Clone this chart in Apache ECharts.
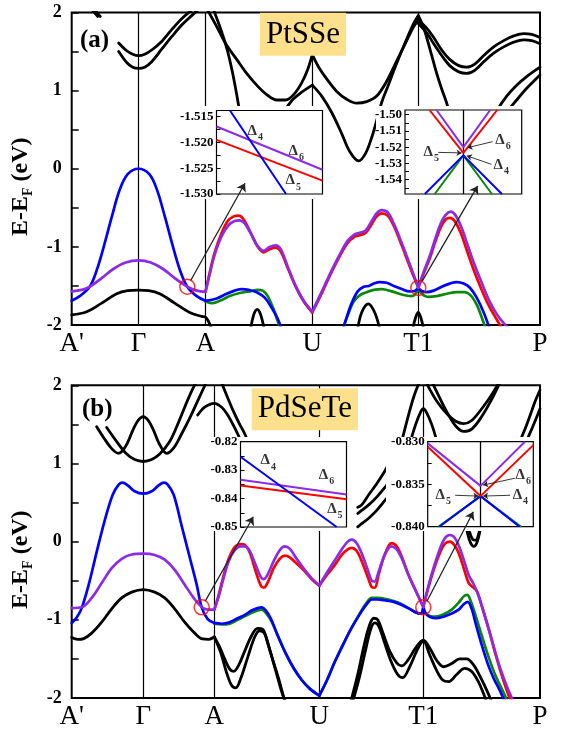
<!DOCTYPE html>
<html><head><meta charset="utf-8">
<script src="https://cdn.jsdelivr.net/npm/echarts@6/dist/echarts.min.js"></script>
<style>html,body{margin:0;padding:0;background:#fff}#c{width:564px;height:731px}</style>
</head><body><div id="c"></div>
<script>
// ---------------- DATA ----------------
const kLabels = ["A'", 'Γ', 'A', 'U', 'T1', 'P'];
const kpA = [0, 0.668, 1.338, 2.406, 3.466, 4.683];
const kpB = [0, 0.716, 1.426, 2.476, 3.516, 4.683];

// Panel (a) PtSSe : each band = list of segments of [k, E]
const a_up1 = [[[0.2,2.04],[0.26,1.95]],
  [[0.47,1.61],[0.55,1.51],[0.61,1.465],[0.668,1.447],[0.73,1.465],[0.8,1.52],[0.9,1.63],[1.0,1.78],[1.1,1.92],[1.2,2.03]]];
const a_up2 = [[[0.225,2.04],[0.285,1.95]],
  [[0.47,1.5],[0.55,1.36],[0.61,1.3],[0.668,1.285],[0.73,1.3],[0.8,1.37],[0.9,1.53],[1.0,1.69],[1.1,1.84],[1.2,1.96],[1.27,2.04]]];
const a_low = [[[0,-1.87],[0.15,-1.83],[0.3,-1.72],[0.45,-1.6],[0.56,-1.56],[0.668,-1.553],[0.77,-1.56],[0.88,-1.6],[1.03,-1.72],[1.18,-1.84],[1.3,-1.89],[1.338,-1.9],[1.37,-1.96],[1.4,-2.05]]];
const a_c1 = [
  [[1.36,2.03],[1.45,1.82],[1.55,1.58],[1.65,1.4],[1.75,1.22],[1.85,1.07],[1.95,0.95],[2.05,0.88],[2.14,0.88],[2.22,0.95],[2.3,1.1],[2.36,1.27],[2.406,1.46]],
  [[2.406,1.46],[2.47,1.3],[2.55,1.15],[2.65,0.99],[2.75,0.89],[2.85,0.84],[2.95,0.86],[3.05,0.93],[3.15,1.12],[3.25,1.38],[3.35,1.64],[3.42,1.82],[3.466,1.9]],
  [[3.466,1.9],[3.55,1.8],[3.62,1.68],[3.7,1.52],[3.78,1.4],[3.87,1.32],[3.95,1.3],[4.03,1.34],[4.12,1.45],[4.22,1.56],[4.32,1.64],[4.42,1.7],[4.52,1.73],[4.6,1.72],[4.683,1.68]]];
const a_c2 = [[[1.42,2.03],[1.5,1.75],[1.56,1.5],[1.61,1.22],[1.65,0.95],[1.69,0.65]]];
const a_x2 = [
  [[2.06,0.55],[2.12,0.72],[2.2,0.87],[2.3,0.98],[2.406,1.07]],
  [[2.406,1.07],[2.5,0.93],[2.6,0.72],[2.7,0.45],[2.78,0.22],[2.87,0.1],[2.94,0.2],[3.0,0.4],[3.05,0.62],[3.1,0.85],[3.16,1.05],[3.25,1.35],[3.35,1.66],[3.42,1.86],[3.466,1.96]],
  [[3.466,1.96],[3.51,1.84],[3.55,1.68],[3.6,1.45],[3.65,1.22],[3.7,1.02],[3.75,0.84],[3.8,0.6],[3.84,0.4]]];
const a_tr2 = [[[3.466,1.86],[3.55,1.74],[3.62,1.6],[3.7,1.45],[3.78,1.32],[3.87,1.24],[3.95,1.22],[4.03,1.26],[4.12,1.37],[4.22,1.48],[4.32,1.56],[4.42,1.62],[4.52,1.65],[4.6,1.64],[4.683,1.6]]];
const a_rr = [[[4.2,0.6],[4.25,0.74],[4.35,0.93],[4.45,1.07],[4.55,1.18],[4.683,1.3]],
  [[4.3,0.6],[4.35,0.72],[4.45,0.88],[4.55,1.03],[4.62,1.12],[4.683,1.2]]];
const a_arch = [[[1.79,-2.05],[1.82,-1.87],[1.856,-1.8],[1.89,-1.87],[1.925,-2.05]],
  [[2.86,-2.05],[2.9,-1.84],[2.966,-1.73],[3.03,-1.84],[3.08,-2.05]],
  [[3.41,-2.05],[3.44,-1.9],[3.466,-1.84],[3.49,-1.9],[3.52,-2.05]]];

const a_blue = [
  [[0,-1.69],[0.08,-1.63],[0.18,-1.51],[0.25,-1.3],[0.32,-1.0],[0.4,-0.62],[0.48,-0.27],[0.56,-0.07],[0.668,0],[0.776,-0.07],[0.853,-0.27],[0.933,-0.62],[1.013,-1.0],[1.083,-1.3],[1.156,-1.51],[1.25,-1.63],[1.338,-1.69]],
  [[1.338,-1.69],[1.45,-1.66],[1.55,-1.6],[1.63,-1.56],[1.7,-1.54],[1.77,-1.55],[1.85,-1.58],[1.93,-1.65],[2.0,-1.78],[2.06,-1.92],[2.1,-2.05]],
  [[2.7,-2.1],[2.75,-1.9],[2.8,-1.72],[2.86,-1.57],[2.92,-1.51],[2.97,-1.5],[3.02,-1.47],[3.08,-1.45],[3.15,-1.46],[3.22,-1.5],[3.3,-1.54],[3.38,-1.57],[3.43,-1.565],[3.466,-1.525]],
  [[3.466,-1.525],[3.5,-1.565],[3.55,-1.58],[3.62,-1.56],[3.7,-1.51],[3.78,-1.47],[3.85,-1.45],[3.92,-1.47],[3.98,-1.52],[4.05,-1.65],[4.12,-1.84],[4.18,-2.05]]];
const a_green = [
  [[1.338,-1.7],[1.4,-1.72],[1.48,-1.69],[1.58,-1.63],[1.68,-1.59],[1.78,-1.57],[1.86,-1.55],[1.91,-1.56],[1.96,-1.63],[2.02,-1.8],[2.06,-1.95],[2.09,-2.05]],
  [[2.7,-2.1],[2.76,-1.88],[2.82,-1.7],[2.88,-1.62],[2.95,-1.58],[3.02,-1.55],[3.1,-1.54],[3.2,-1.57],[3.3,-1.61],[3.4,-1.63],[3.44,-1.6],[3.466,-1.525]],
  [[3.466,-1.525],[3.5,-1.6],[3.56,-1.64],[3.65,-1.63],[3.75,-1.6],[3.85,-1.58],[3.93,-1.58],[3.99,-1.62],[4.05,-1.74],[4.1,-1.9],[4.14,-2.05]]];
const a_red = [
  [[1.338,-1.575],[1.38,-1.33],[1.43,-1.07],[1.5,-0.82],[1.56,-0.67],[1.62,-0.61],[1.67,-0.6],[1.72,-0.65],[1.79,-0.82],[1.86,-1.0],[1.92,-1.07],[1.98,-1.03],[2.04,-1.01],[2.09,-1.06],[2.16,-1.27],[2.24,-1.51],[2.32,-1.7],[2.406,-1.84]],
  [[2.406,-1.84],[2.46,-1.7],[2.52,-1.54],[2.6,-1.32],[2.68,-1.12],[2.76,-0.95],[2.83,-0.87],[2.88,-0.85],[2.94,-0.82],[3.0,-0.71],[3.05,-0.61],[3.1,-0.57],[3.16,-0.6],[3.22,-0.73],[3.3,-0.98],[3.38,-1.25],[3.466,-1.5235]],
  [[3.466,-1.5235],[3.52,-1.34],[3.58,-1.15],[3.64,-0.92],[3.69,-0.75],[3.74,-0.65],[3.78,-0.63],[3.83,-0.67],[3.89,-0.82],[3.95,-1.04],[4.01,-1.26],[4.09,-1.52],[4.17,-1.75],[4.25,-1.93],[4.31,-2.06]]];
const a_purple = [
  [[0,-1.57],[0.1,-1.55],[0.18,-1.51],[0.3,-1.4],[0.42,-1.28],[0.54,-1.2],[0.668,-1.173],[0.79,-1.2],[0.91,-1.28],[1.03,-1.4],[1.156,-1.51],[1.25,-1.56],[1.338,-1.575]],
  [[1.338,-1.575],[1.38,-1.35],[1.43,-1.1],[1.5,-0.86],[1.57,-0.72],[1.63,-0.67],[1.68,-0.66],[1.73,-0.7],[1.8,-0.85],[1.86,-0.99],[1.92,-1.05],[1.98,-1.0],[2.04,-0.98],[2.09,-1.03],[2.16,-1.25],[2.24,-1.5],[2.32,-1.69],[2.406,-1.83]],
  [[2.406,-1.83],[2.46,-1.68],[2.52,-1.52],[2.6,-1.3],[2.68,-1.1],[2.76,-0.92],[2.83,-0.84],[2.88,-0.82],[2.94,-0.79],[3.0,-0.67],[3.05,-0.57],[3.1,-0.53],[3.16,-0.56],[3.22,-0.7],[3.3,-0.95],[3.38,-1.22],[3.466,-1.52]],
  [[3.466,-1.52],[3.52,-1.32],[3.58,-1.12],[3.64,-0.88],[3.69,-0.7],[3.74,-0.59],[3.79,-0.55],[3.84,-0.6],[3.9,-0.76],[3.96,-0.98],[4.02,-1.2],[4.1,-1.46],[4.18,-1.7],[4.26,-1.88],[4.33,-1.99],[4.38,-2.06]]];

// Panel (b) PdSeTe
const b_w = [[[0.25,1.47],[0.32,1.33],[0.4,1.19],[0.467,1.13],[0.54,1.22],[0.62,1.45],[0.67,1.56],[0.716,1.6],[0.76,1.56],[0.81,1.45],[0.88,1.24],[0.95,1.13],[1.02,1.2],[1.1,1.38],[1.18,1.58],[1.26,1.8],[1.35,2.05]]];
const b_v = [[[0.35,1.46],[0.45,1.28],[0.55,1.12],[0.63,1.05],[0.716,1.025],[0.8,1.05],[0.88,1.12],[0.98,1.28],[1.06,1.5],[1.13,1.72],[1.19,1.9],[1.24,2.03]]];
const b_apeak = [[[1.26,1.62],[1.33,1.72],[1.426,1.77],[1.5,1.72],[1.56,1.62],[1.62,1.48],[1.68,1.32],[1.73,1.15]]];
const b_steep = [[[1.5,2.03],[1.56,1.84],[1.62,1.66],[1.68,1.5],[1.73,1.38],[1.78,1.22]]];
const b_low = [[[0,-1.225],[0.06,-1.25],[0.12,-1.24],[0.2,-1.17],[0.3,-1.03],[0.4,-0.86],[0.5,-0.72],[0.6,-0.645],[0.716,-0.614],[0.83,-0.645],[0.93,-0.72],[1.03,-0.86],[1.13,-1.03],[1.23,-1.17],[1.31,-1.245],[1.37,-1.25],[1.426,-1.22]]];
const b_bk1 = [[[1.426,-1.22],[1.48,-1.35],[1.53,-1.5],[1.58,-1.63],[1.62,-1.66],[1.67,-1.58],[1.73,-1.4],[1.8,-1.2],[1.86,-1.11],[1.91,-1.12],[1.96,-1.3],[2.02,-1.55],[2.08,-1.8],[2.13,-2.05]]];
const b_bk2 = [[[1.426,-1.22],[1.49,-1.42],[1.55,-1.68],[1.6,-1.84],[1.64,-1.87],[1.69,-1.75],[1.76,-1.48],[1.83,-1.22],[1.88,-1.14],[1.93,-1.18],[1.98,-1.38],[2.04,-1.65],[2.1,-1.92],[2.14,-2.05]]];
const b_bk3 = [[[2.79,-2.05],[2.86,-1.7],[2.92,-1.35],[2.97,-1.1],[3.02,-0.98],[3.06,-1.0],[3.11,-1.16],[3.18,-1.4],[3.25,-1.55],[3.3,-1.59],[3.36,-1.52],[3.44,-1.36],[3.516,-1.26],[3.58,-1.36],[3.65,-1.52],[3.72,-1.6],[3.8,-1.56],[3.88,-1.5],[3.95,-1.5],[4.02,-1.58],[4.09,-1.74],[4.15,-1.9],[4.2,-2.05]]];
const b_bk4 = [[[2.81,-2.05],[2.88,-1.72],[2.94,-1.38],[2.99,-1.12],[3.03,-1.04],[3.07,-1.08],[3.12,-1.26],[3.19,-1.52],[3.26,-1.7],[3.31,-1.74],[3.38,-1.6],[3.45,-1.4],[3.516,-1.27],[3.58,-1.45],[3.65,-1.65],[3.71,-1.77],[3.77,-1.79],[3.85,-1.7],[3.93,-1.62],[4.0,-1.66],[4.07,-1.8],[4.12,-1.95],[4.15,-2.05]]];
const b_mid = [[[2.86,0.44],[2.9,0.47],[2.97,0.6],[3.05,0.74],[3.13,0.9],[3.17,1.0]],
  [[2.86,0.36],[2.88,0.38],[2.97,0.47],[3.05,0.57],[3.13,0.69],[3.17,0.76]],
  [[2.86,0.19],[2.88,0.21],[2.97,0.3],[3.05,0.4],[3.12,0.51],[3.16,0.57]]];
const b_t1 = [[[3.38,1.25],[3.44,1.5],[3.49,1.66],[3.516,1.7],[3.545,1.66],[3.6,1.5],[3.66,1.25]],
  [[3.3,1.28],[3.36,1.58],[3.42,1.85],[3.47,2.02],[3.5,2.1]]];
const b_tr = [[[3.53,2.08],[3.58,1.95],[3.66,1.78],[3.75,1.64],[3.84,1.54],[3.92,1.51],[4.0,1.55],[4.1,1.7],[4.2,1.88],[4.27,2.03]],
  [[3.6,2.05],[3.68,1.84],[3.76,1.64],[3.84,1.48],[3.92,1.41],[4.0,1.44],[4.1,1.6],[4.2,1.82],[4.28,2.03]]];
const b_rr = [[[4.45,1.2],[4.52,1.4],[4.58,1.6],[4.63,1.78],[4.683,1.94]],
  [[4.5,1.15],[4.57,1.35],[4.63,1.53],[4.683,1.7]]];
const b_vv = [[[3.93,0.3],[3.96,0.1],[3.99,-0.02],[4.02,-0.06],[4.05,-0.02],[4.08,0.12],[4.11,0.3]],
  [[3.95,0.3],[3.98,0.12],[4.01,0.03],[4.04,0.02],[4.07,0.1],[4.1,0.28]]];

const b_blue = [
  [[0,-1.04],[0.05,-0.97],[0.1,-0.85],[0.17,-0.55],[0.25,-0.13],[0.33,0.27],[0.41,0.6],[0.47,0.73],[0.51,0.755],[0.56,0.72],[0.63,0.645],[0.716,0.615],[0.8,0.645],[0.87,0.72],[0.92,0.755],[0.96,0.73],[1.02,0.6],[1.1,0.2],[1.18,-0.2],[1.25,-0.55],[1.3,-0.84],[1.36,-0.99],[1.426,-1.04]],
  [[1.426,-1.04],[1.5,-1.05],[1.58,-1.03],[1.66,-0.98],[1.74,-0.93],[1.8,-0.88],[1.86,-0.85],[1.9,-0.84],[1.94,-0.88],[1.99,-0.98],[2.06,-1.2],[2.14,-1.43],[2.22,-1.62],[2.3,-1.77],[2.38,-1.88],[2.476,-1.97]],
  [[2.476,-1.97],[2.55,-1.78],[2.63,-1.54],[2.72,-1.3],[2.8,-1.1],[2.88,-0.93],[2.95,-0.8],[3.0,-0.74],[3.06,-0.74],[3.13,-0.75],[3.22,-0.77],[3.3,-0.81],[3.38,-0.86],[3.45,-0.91],[3.49,-0.92],[3.516,-0.836]],
  [[3.516,-0.836],[3.54,-0.92],[3.58,-0.96],[3.64,-0.98],[3.72,-0.96],[3.8,-0.92],[3.87,-0.87],[3.92,-0.8],[3.96,-0.77],[4.0,-0.86],[4.04,-1.05],[4.1,-1.32],[4.16,-1.56],[4.22,-1.75],[4.28,-1.9],[4.33,-2.05]]];
const b_green = [
  [[1.426,-1.05],[1.5,-1.06],[1.58,-1.05],[1.66,-1.0],[1.74,-0.95],[1.8,-0.91],[1.86,-0.88],[1.9,-0.87],[1.94,-0.91],[1.99,-1.0],[2.06,-1.2],[2.14,-1.43],[2.22,-1.62],[2.3,-1.77],[2.38,-1.88],[2.476,-1.97]],
  [[2.476,-1.97],[2.55,-1.78],[2.63,-1.54],[2.72,-1.3],[2.8,-1.1],[2.88,-0.92],[2.95,-0.78],[3.0,-0.72],[3.06,-0.72],[3.13,-0.73],[3.22,-0.76],[3.3,-0.8],[3.38,-0.86],[3.45,-0.91],[3.49,-0.92],[3.516,-0.836]],
  [[3.516,-0.836],[3.54,-0.92],[3.58,-0.95],[3.64,-0.96],[3.72,-0.93],[3.8,-0.87],[3.87,-0.78],[3.92,-0.7],[3.955,-0.68],[3.99,-0.76],[4.04,-0.95],[4.1,-1.2],[4.17,-1.48],[4.24,-1.72],[4.3,-1.88],[4.36,-2.05]]];
const b_red = [
  [[1.426,-0.87],[1.47,-0.68],[1.52,-0.43],[1.57,-0.22],[1.63,-0.07],[1.69,-0.03],[1.73,-0.04],[1.78,-0.14],[1.84,-0.38],[1.89,-0.56],[1.92,-0.59],[1.96,-0.52],[2.02,-0.34],[2.08,-0.22],[2.13,-0.18],[2.18,-0.2],[2.25,-0.28],[2.33,-0.38],[2.4,-0.48],[2.476,-0.565]],
  [[2.476,-0.565],[2.55,-0.43],[2.63,-0.3],[2.7,-0.17],[2.76,-0.1],[2.8,-0.08],[2.85,-0.12],[2.9,-0.25],[2.96,-0.45],[3.0,-0.58],[3.03,-0.59],[3.07,-0.42],[3.12,-0.2],[3.17,-0.05],[3.2,-0.02],[3.25,-0.06],[3.3,-0.19],[3.36,-0.4],[3.43,-0.6],[3.516,-0.8364]],
  [[3.516,-0.8364],[3.56,-0.62],[3.62,-0.36],[3.68,-0.15],[3.73,-0.03],[3.78,0.0],[3.83,-0.05],[3.88,-0.18],[3.93,-0.38],[3.97,-0.53],[4.01,-0.58],[4.05,-0.63],[4.1,-0.82],[4.17,-1.12],[4.24,-1.45],[4.31,-1.75],[4.37,-1.97],[4.4,-2.05]]];
const b_purple = [
  [[0,-0.85],[0.1,-0.84],[0.2,-0.72],[0.3,-0.53],[0.4,-0.34],[0.5,-0.22],[0.6,-0.165],[0.716,-0.154],[0.83,-0.17],[0.93,-0.23],[1.03,-0.36],[1.13,-0.55],[1.22,-0.72],[1.3,-0.835],[1.36,-0.87],[1.426,-0.87]],
  [[1.426,-0.87],[1.47,-0.7],[1.52,-0.46],[1.57,-0.25],[1.63,-0.11],[1.69,-0.06],[1.73,-0.06],[1.78,-0.12],[1.84,-0.3],[1.89,-0.45],[1.92,-0.48],[1.96,-0.42],[2.02,-0.25],[2.08,-0.11],[2.13,-0.06],[2.18,-0.09],[2.25,-0.22],[2.33,-0.36],[2.4,-0.47],[2.476,-0.56]],
  [[2.476,-0.56],[2.55,-0.4],[2.63,-0.24],[2.7,-0.1],[2.76,0.0],[2.8,0.025],[2.85,-0.02],[2.9,-0.15],[2.96,-0.36],[3.0,-0.5],[3.03,-0.51],[3.07,-0.38],[3.12,-0.2],[3.17,-0.08],[3.2,-0.06],[3.25,-0.1],[3.3,-0.21],[3.36,-0.4],[3.43,-0.6],[3.516,-0.835]],
  [[3.516,-0.835],[3.56,-0.6],[3.62,-0.33],[3.68,-0.1],[3.73,0.04],[3.78,0.085],[3.83,0.05],[3.88,-0.08],[3.93,-0.27],[3.97,-0.43],[4.01,-0.52],[4.06,-0.66],[4.12,-0.9],[4.2,-1.25],[4.28,-1.6],[4.36,-1.88],[4.42,-2.05]]];

// Marked crossings and pointer arrows (data coordinates of the main panels)
const circA = [[1.156,-1.51],[3.466,-1.525]];
const circB = [[1.3,-0.84],[3.516,-0.84]];
const arrA = [[[1.19,-1.43],[1.733,-0.186]], [[3.504,-1.442],[4.06,-0.22]]];
const arrB = [[[1.337,-0.757],[1.816,0.318]], [[3.551,-0.765],[4.016,0.382]]];

// Insets
const in_a1 = {xr:[0,1], yr:[-1.530,-1.5138], labels:[-1.530,-1.525,-1.520,-1.515], ticks:[-1.530,-1.5275,-1.525,-1.5225,-1.520,-1.5175,-1.515], dec:3};
const in_a1_blue = [[0.127,-1.5138],[0.656,-1.530]];
const in_a1_purple = [[0,-1.5169],[1,-1.5253]];
const in_a1_red = [[0,-1.5195],[1,-1.5274]];
const in_a1_text = [[0.288,-1.5178,'4'],[0.675,-1.5217,'6'],[0.646,-1.5274,'5']];

const in_a2 = {xr:[-1,1], yr:[-1.5488,-1.4971], labels:[-1.54,-1.53,-1.52,-1.51,-1.50], ticks:[-1.545,-1.54,-1.535,-1.53,-1.525,-1.52,-1.515,-1.51,-1.505,-1.50], dec:2};
const in_a2_red = [[-0.58,-1.4971],[0,-1.5235],[0.58,-1.4971]];
const in_a2_purple = [[-0.46,-1.4971],[0,-1.5200],[0.46,-1.4971]];
const in_a2_blue = [[-0.66,-1.5488],[0,-1.5250],[0.66,-1.5488]];
const in_a2_green = [[-0.49,-1.5488],[0,-1.5250],[0.49,-1.5488]];
const in_a2_text = [[0.54,-1.5158,'6'],[0.51,-1.5312,'4'],[-0.69,-1.5232,'5']];
const in_a2_arrows = [[[0.5,-1.5166],[0.07,-1.5203]], [[0.48,-1.5305],[0.06,-1.5253]], [[-0.43,-1.5232],[-0.03,-1.5235]]];

const in_b1 = {xr:[0,1], yr:[-0.85,-0.82], labels:[-0.85,-0.84,-0.83,-0.82], ticks:[-0.85,-0.845,-0.84,-0.835,-0.83,-0.825,-0.82], dec:2};
const in_b1_blue = [[0,-0.8253],[0.907,-0.85]];
const in_b1_purple = [[0,-0.8334],[1,-0.8386]];
const in_b1_red = [[0,-0.8354],[1,-0.8402]];
const in_b1_text = [[0.184,-0.8266,'4'],[0.734,-0.8316,'6'],[0.813,-0.8436,'5']];

const in_b2 = {xr:[-1,1], yr:[-0.840,-0.830], labels:[-0.840,-0.835,-0.830], ticks:[-0.840,-0.8375,-0.835,-0.8325,-0.830], dec:3};
const in_b2_purple = [[-1,-0.8302],[0,-0.8352],[0.84,-0.830]];
const in_b2_red = [[-1,-0.8306],[0,-0.8364],[1,-0.8304]];
const in_b2_blue = [[-0.78,-0.840],[0,-0.8364],[0.74,-0.840]];
const in_b2_green = [[-0.80,-0.840],[0,-0.8364],[0.77,-0.840]];
const in_b2_text = [[0.653,-0.8339,'6'],[-0.862,-0.8363,'5'],[0.6,-0.8363,'4']];
const in_b2_arrows = [[[0.65,-0.8343],[0.05,-0.8351]], [[-0.48,-0.8363],[-0.04,-0.8364]], [[0.56,-0.8363],[0.05,-0.8364]]];

// ---------------- LAYOUT / STYLE ----------------
const SERIF = "'Liberation Serif','Times New Roman',serif";
const COL = {black:'#000000', blue:'#0000ff', green:'#0b870b', red:'#ff0000', purple:'#8c2be6'};
const GRIDS = [
  {left:71.7, top:12.5, width:468.3, height:312.5},   // panel a
  {left:71.7, top:385.3, width:468.3, height:312.7},  // panel b
  {left:216.5, top:110.5, width:106, height:83.5},    // inset a1
  {left:405, top:110, width:116.7, height:84},        // inset a2
  {left:240.5, top:441.7, width:106, height:85.3},    // inset b1
  {left:427.7, top:441.7, width:105.6, height:85}     // inset b2
];
const INSET_BG = [
  {x:168, y:106, width:156, height:93},
  {x:376, y:106, width:147, height:93},
  {x:205, y:437, width:143, height:94},
  {x:386, y:437, width:149, height:94}
];

function bandSeries(bands, color, ai, width, z) {
  const out = [];
  bands.forEach(b => b.forEach(seg => out.push({
    type:'line', xAxisIndex:ai, yAxisIndex:ai, data:seg, symbol:'none', showSymbol:false,
    smooth:0.35, lineStyle:{color, width, cap:'round', join:'round'}, silent:true, clip:true, z, animation:false
  })));
  return out;
}
function insetLine(data, color, ai, z) {
  return {type:'line', xAxisIndex:ai, yAxisIndex:ai, data, symbol:'none', showSymbol:false, smooth:false,
    lineStyle:{color, width:2}, silent:true, clip:true, zlevel:1, z:z||7, animation:false};
}
function deltaLabels(data, ai) {
  return {type:'scatter', xAxisIndex:ai, yAxisIndex:ai, data, symbolSize:1, itemStyle:{color:'rgba(0,0,0,0)'},
    zlevel:1, z:9, silent:true, animation:false,
    label:{show:true, position:'right', distance:0, formatter: p => '{d|Δ}{s|' + p.data[2] + '}',
      rich:{d:{fontFamily:SERIF, fontWeight:'bold', fontSize:15, lineHeight:15, verticalAlign:'top', color:'#000'},
            s:{fontFamily:SERIF, fontWeight:'bold', fontSize:10, lineHeight:10, verticalAlign:'top', padding:[9,0,0,1], color:'#000'}}}};
}
function arrowSeries(list, ai, zl, size, width) {
  return {type:'lines', coordinateSystem:'cartesian2d', xAxisIndex:ai, yAxisIndex:ai, polyline:false,
    data:list.map(c => ({coords:c})), symbol:['none','arrow'], symbolSize:size,
    lineStyle:{color:'#222', width, opacity:1}, zlevel:zl, z:10, silent:true, animation:false, effect:{show:false}};
}
function vline(ai, values, width, zl, z) {
  return {type:'line', xAxisIndex:ai, yAxisIndex:ai, data:[], zlevel:zl, z, silent:true, animation:false,
    markLine:{silent:true, zlevel:zl, z, symbol:['none','none'], label:{show:false}, animation:false,
      lineStyle:{color:'#000', width, type:'solid'}, data:values.map(v => ({xAxis:v}))}};
}

const xAxes = [], yAxes = [];
[kpA, kpB].forEach((kp, i) => {
  xAxes.push({type:'value', gridIndex:i, min:0, max:4.683, axisLine:{show:false, onZero:false}, axisTick:{show:false}, splitLine:{show:false},
    axisLabel:{show:true, customValues:kp, formatter: v => { const j = kp.findIndex(p => Math.abs(p - v) < 1e-6); return j >= 0 ? kLabels[j] : ''; },
      fontFamily:SERIF, fontSize:27, color:'#000', margin:5}});
  yAxes.push({type:'value', gridIndex:i, min:-2, max:2, interval:0.5, axisLine:{show:false, onZero:false},
    axisTick:{show:true, inside:true, length:7, lineStyle:{color:'#000', width:1.5}}, splitLine:{show:false},
    axisLabel:{formatter: v => Number.isInteger(v) ? String(v) : '', fontFamily:SERIF, fontWeight:'bold', fontSize:18, color:'#000', margin:10},
    name:'{m|E-E}{s|F}{m| (eV)}', nameLocation:'middle', nameGap:27, nameRotate:90,
    nameTextStyle:{color:'#000', padding:[0,36,0,0], rich:{
      m:{fontFamily:SERIF, fontWeight:'bold', fontSize:24, lineHeight:24, verticalAlign:'top', color:'#000'},
      s:{fontFamily:SERIF, fontWeight:'bold', fontSize:14, lineHeight:14, verticalAlign:'top', padding:[13,0,0,0], color:'#000'}}}});
});
[in_a1, in_a2, in_b1, in_b2].forEach((ins, j) => {
  const gi = j + 2;
  xAxes.push({type:'value', gridIndex:gi, min:ins.xr[0], max:ins.xr[1], axisLine:{show:false, onZero:false}, axisTick:{show:false}, axisLabel:{show:false}, splitLine:{show:false}, zlevel:1, z:6});
  yAxes.push({type:'value', gridIndex:gi, min:ins.yr[0], max:ins.yr[1], position:'left', axisLine:{show:false, onZero:false}, splitLine:{show:false},
    axisTick:{show:true, inside:true, length:4, customValues:ins.ticks, lineStyle:{color:'#000', width:1}},
    axisLabel:{show:true, customValues:ins.labels, formatter: v => v.toFixed(ins.dec), fontFamily:SERIF, fontWeight:'bold', fontSize:13, color:'#000', margin:3},
    zlevel:1, z:6});
});

const grids = GRIDS.map((g, i) => Object.assign({}, g, i < 2
  ? {show:true, borderColor:'#000', borderWidth:2, backgroundColor:'rgba(0,0,0,0)', containLabel:false, outerBoundsMode:'none'}
  : {show:true, borderColor:'#000', borderWidth:1.2, backgroundColor:'#fff', containLabel:false, outerBoundsMode:'none', zlevel:1, z:5}));

let series = [vline(0, kpA.slice(1,5), 1.2, 0, 1), vline(1, kpB.slice(1,5), 1.2, 0, 1)];
series = series.concat(
  bandSeries([a_up1, a_up2, a_low, a_c1, a_c2, a_x2, a_tr2, a_rr, a_arch], COL.black, 0, 2.8, 2),
  bandSeries([a_green], COL.green, 0, 2.7, 3),
  bandSeries([a_blue], COL.blue, 0, 2.7, 4),
  bandSeries([a_red], COL.red, 0, 2.7, 5),
  bandSeries([a_purple], COL.purple, 0, 2.7, 6),
  bandSeries([b_w, b_v, b_apeak, b_steep, b_low, b_bk1, b_bk2, b_bk3, b_bk4, b_mid, b_t1, b_tr, b_rr, b_vv], COL.black, 1, 2.8, 2),
  bandSeries([b_green], COL.green, 1, 2.7, 3),
  bandSeries([b_blue], COL.blue, 1, 2.7, 4),
  bandSeries([b_red], COL.red, 1, 2.7, 5),
  bandSeries([b_purple], COL.purple, 1, 2.7, 6)
);
[[circA,0],[circB,1]].forEach(([d, ai]) => series.push({type:'scatter', xAxisIndex:ai, yAxisIndex:ai, data:d, symbol:'circle', symbolSize:15,
  itemStyle:{color:'rgba(0,0,0,0)', borderColor:'#ff0000', borderWidth:1.5}, z:8, silent:true, animation:false}));
series.push(arrowSeries(arrA, 0, 2, 8, 1.3));
series.push(arrowSeries(arrB, 1, 2, 8, 1.3));

// insets
series.push(insetLine(in_a1_purple, COL.purple, 2), insetLine(in_a1_red, COL.red, 2), insetLine(in_a1_blue, COL.blue, 2), deltaLabels(in_a1_text, 2));
series.push(vline(3, [0], 1.3, 1, 6.5), insetLine(in_a2_green, COL.green, 3), insetLine(in_a2_blue, COL.blue, 3),
  insetLine(in_a2_red, COL.red, 3), insetLine(in_a2_purple, COL.purple, 3), deltaLabels(in_a2_text, 3), arrowSeries(in_a2_arrows, 3, 1, 5, 0.9));
series.push(insetLine(in_b1_purple, COL.purple, 4), insetLine(in_b1_red, COL.red, 4), insetLine(in_b1_blue, COL.blue, 4), deltaLabels(in_b1_text, 4));
series.push(vline(5, [0], 1.3, 1, 6.5), insetLine(in_b2_green, COL.green, 5), insetLine(in_b2_blue, COL.blue, 5),
  insetLine(in_b2_red, COL.red, 5), insetLine(in_b2_purple, COL.purple, 5), deltaLabels(in_b2_text, 5), arrowSeries(in_b2_arrows, 5, 1, 5, 0.9));

const option = {
  animation:false,
  backgroundColor:'#fff',
  textStyle:{fontFamily:SERIF},
  title:[
    {text:'(a)', left:80, top:28, padding:0, textStyle:{fontFamily:SERIF, fontWeight:'bold', fontSize:25, color:'#000'}},
    {text:'PtSSe', left:260, top:12.7, padding:[6,6,5,6], backgroundColor:'#fde08c', textStyle:{fontFamily:SERIF, fontWeight:'normal', fontSize:31, lineHeight:32, color:'#000'}},
    {text:'(b)', left:82, top:397, padding:0, textStyle:{fontFamily:SERIF, fontWeight:'bold', fontSize:25, color:'#000'}},
    {text:'PdSeTe', left:251.7, top:388.3, padding:[5,6,5,6], backgroundColor:'#fde08c', textStyle:{fontFamily:SERIF, fontWeight:'normal', fontSize:31, lineHeight:32, color:'#000'}}
  ],
  grid:grids,
  xAxis:xAxes,
  yAxis:yAxes,
  graphic:INSET_BG.map(r => ({type:'rect', shape:r, style:{fill:'#fff'}, zlevel:1, z:1, silent:true})),
  series
};
const chart = echarts.init(document.getElementById('c'), null, {renderer:'canvas'});
chart.setOption(option);
</script></body></html>
